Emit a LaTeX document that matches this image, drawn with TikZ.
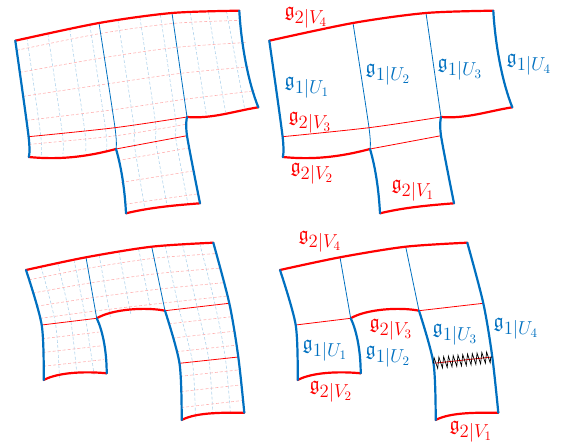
\documentclass[tikz,border=0pt]{standalone}
\usepackage{amssymb}
\usetikzlibrary{calc,decorations.pathmorphing}
\definecolor{vred}{RGB}{255,0,0}
\definecolor{ublue}{RGB}{0,112,192}
\newcommand{\gsub}[2]{$\mathfrak{g}_{\scalebox{1.3}{$\scriptstyle #1|#2$}}$}

\begin{document}
\begin{tikzpicture}[x=1pt,y=-1pt,
	vedge/.style={draw=vred,line width=2.2pt,line cap=round},
	uedge/.style={draw=ublue,line width=2.2pt,line cap=round},
	vline/.style={draw=vred,line width=0.8pt},
	uline/.style={draw=ublue,line width=0.8pt},
	vgrid/.style={draw=vred!30,line width=0.6pt,dash pattern=on 3pt off 2pt},
	ugrid/.style={draw=ublue!30,line width=0.6pt,dash pattern=on 3pt off 2pt},
	vlab/.style={text=vred,font=\fontsize{20}{24}\selectfont,inner sep=0pt},
	ulab/.style={text=ublue,font=\fontsize{20}{24}\selectfont,inner sep=0pt},
	zig/.style={draw=black,line width=0.7pt,decorate,decoration={zigzag,amplitude=5.5pt,segment length=4.8pt}}]

\useasboundingbox (0,0) rectangle (563,446);

% T shape
\begin{scope}
	\coordinate (p00) at (15.3,40.7);
	\coordinate (p10) at (99,23);
	\coordinate (p20) at (172,13);
	\coordinate (p30) at (239.3,10.7);
	\coordinate (p01) at (28.6,136.7);
	\coordinate (p11) at (115,127.7);
	\coordinate (p21) at (187,117);
	\coordinate (p31) at (258.3,107.3);
	\coordinate (p02) at (28.8,157);
	\coordinate (p12) at (116,149);
	\coordinate (p22) at (187,135.7);
	\coordinate (p13) at (126,213.3);
	\coordinate (p23) at (200,203.3);
	\foreach \n in {00,10,20,30,01,11,21,31,02,12,22,13,23}
		\coordinate (q\n) at ([xshift=254pt]p\n);
\end{scope}

% arch shape
\begin{scope}
	\coordinate (b00) at (26,270);
	\coordinate (b10) at (86,257.3);
	\coordinate (b20) at (151.7,246.7);
	\coordinate (b30) at (213.3,242.7);
	\coordinate (b01) at (41.7,325);
	\coordinate (b11) at (96.7,318.3);
	\coordinate (b21) at (165,310.7);
	\coordinate (b31) at (229.3,303.3);
	\coordinate (b02) at (43.7,380);
	\coordinate (b12) at (106.7,373.3);
	\coordinate (b22) at (179.5,363.3);
	\coordinate (b32) at (238.3,357);
	\coordinate (b23) at (181.7,420);
	\coordinate (b33) at (244.3,412.7);
	\foreach \n in {00,10,20,30,01,11,21,31,02,12,22,32,23,33}
		\coordinate (c\n) at ([xshift=254pt]b\n);
\end{scope}

% grids
\foreach \t in {0.14,0.39,0.65,0.89}
	\draw[ugrid] plot[smooth] coordinates {($(p00)!\t!(p10)$) ($(p01)!\t!(p11)$) ($(p02)!\t!(p12)$)};
\foreach \t in {0.26,0.56,0.84}
	\draw[ugrid] plot[smooth] coordinates {($(p10)!\t!(p20)$) ($(p11)!\t!(p21)$) ($(p12)!\t!(p22)$) ($(p13)!\t!(p23)$)};
\foreach \t in {0.27,0.54,0.81}
	\draw[ugrid] ($(p20)!\t!(p30)$) -- ($(p21)!\t!(p31)$);
\foreach \s in {0.1,0.33,0.58,0.83}
	\draw[vgrid] plot[smooth] coordinates {($(p00)!\s!(p01)$) ($(p10)!\s!(p11)$) ($(p20)!\s!(p21)$) ($(p30)!\s!(p31)$)};
\foreach \s in {0.38}
	\draw[vgrid] plot[smooth] coordinates {($(p01)!\s!(p02)$) ($(p11)!\s!(p12)$) ($(p21)!\s!(p22)$)};
\foreach \s in {0.18,0.52,0.86}
	\draw[vgrid] ($(p12)!\s!(p13)$) -- ($(p22)!\s!(p23)$);

\foreach \t in {0.25,0.53,0.8}
	\draw[ugrid] plot[smooth] coordinates {($(b00)!\t!(b10)$) ($(b01)!\t!(b11)$) ($(b02)!\t!(b12)$)};
\foreach \t in {0.2,0.5,0.8}
	\draw[ugrid] ($(b10)!\t!(b20)$) -- ($(b11)!\t!(b21)$);
\foreach \t in {0.22,0.5,0.78}
	\draw[ugrid] plot[smooth] coordinates {($(b20)!\t!(b30)$) ($(b21)!\t!(b31)$) ($(b22)!\t!(b32)$) ($(b23)!\t!(b33)$)};
\foreach \s in {0.18,0.42,0.66,0.88}
	\draw[vgrid] plot[smooth] coordinates {($(b00)!\s!(b01)$) ($(b10)!\s!(b11)$) ($(b20)!\s!(b21)$) ($(b30)!\s!(b31)$)};
\foreach \s in {0.25,0.5,0.75}
	\draw[vgrid] ($(b01)!\s!(b02)$) -- ($(b11)!\s!(b12)$);
\foreach \s in {0.25,0.52,0.78}
	\draw[vgrid] ($(b21)!\s!(b22)$) -- ($(b31)!\s!(b32)$);
\foreach \s in {0.23,0.5,0.78}
	\draw[vgrid] ($(b22)!\s!(b23)$) -- ($(b32)!\s!(b33)$);

% edges of both copies
\foreach \s in {p,q} {
	\draw[uline] plot[smooth] coordinates {(\s10) (\s11) (\s12)}
		(\s20) -- (\s21);
	\draw[vline] plot[smooth] coordinates {(\s01) (\s11) (\s21)}
		(\s12) -- (\s22);
	\draw[vedge] plot[smooth] coordinates {(\s00) (\s10) (\s20) (\s30)};
	\draw[vedge] (\s02) .. controls +(30,3) and +(-30,8) .. (\s12)
		(\s13) .. controls +(25,-6) and +(-25,2) .. (\s23)
		(\s21) .. controls +(25,2) and +(-25,4) .. (\s31);
	\draw[uedge] plot[smooth] coordinates {(\s00) (\s01) (\s02)};
	\draw[uedge] (\s12) .. controls +(6,20) and +(-1,-20) .. (\s13);
	\draw[uedge] plot[smooth] coordinates {(\s23) (\s22) (\s21)};
	\draw[uedge] (\s30) .. controls +(2,35) and +(-10,-25) .. (\s31);
}
\foreach \s in {b,c} {
	\draw[uline] (\s10) -- (\s11)
		(\s20) -- (\s21);
	\draw[vline] (\s01) -- (\s11)
		(\s21) -- (\s31)
		(\s22) -- (\s32);
	\draw[vedge] plot[smooth] coordinates {(\s00) (\s10) (\s20) (\s30)};
	\draw[vedge] (\s02) .. controls +(15,-8) and +(-20,-2) .. (\s12)
		(\s11) .. controls +(15,-9) and +(-20,-4) .. (\s21)
		(\s23) .. controls +(15,-8) and +(-20,0) .. (\s33);
	\draw[uedge] plot[smooth] coordinates {(\s00) (\s01) (\s02)};
	\draw[uedge] (\s12) .. controls +(0,-25) and +(5,10) .. (\s11);
	\draw[uedge] plot[smooth] coordinates {(\s21) (\s22) (\s23)};
	\draw[uedge] plot[smooth] coordinates {(\s33) (\s32) (\s31) (\s30)};
}

\draw[zig] (c22) -- (c32);

% labels
\node[vlab] (tv4) at (306,17.5) {\gsub{2}{V_4}};
\node[ulab] (tu1) at (307,88) {\gsub{1}{U_1}};
\node[ulab] (tu2) at (388,75) {\gsub{1}{U_2}};
\node[ulab] (tu3) at (460,70) {\gsub{1}{U_3}};
\node[ulab] (tu4) at (529,65) {\gsub{1}{U_4}};
\node[vlab] (tv3) at (310,123) {\gsub{2}{V_3}};
\node[vlab] (tv2) at (312,174) {\gsub{2}{V_2}};
\node[vlab] (tv1) at (413,191) {\gsub{2}{V_1}};

\node[vlab] (bv4) at (320,242) {\gsub{2}{V_4}};
\node[vlab] (bv3) at (391,330) {\gsub{2}{V_3}};
\node[ulab] (bu1) at (325,351) {\gsub{1}{U_1}};
\node[ulab] (bu2) at (388,357) {\gsub{1}{U_2}};
\node[ulab] (bu3) at (455,335) {\gsub{1}{U_3}};
\node[ulab] (bu4) at (516,329) {\gsub{1}{U_4}};
\node[vlab] (bv2) at (331,392) {\gsub{2}{V_2}};
\node[vlab] (bv1) at (471,432) {\gsub{2}{V_1}};

\end{tikzpicture}
\end{document}
